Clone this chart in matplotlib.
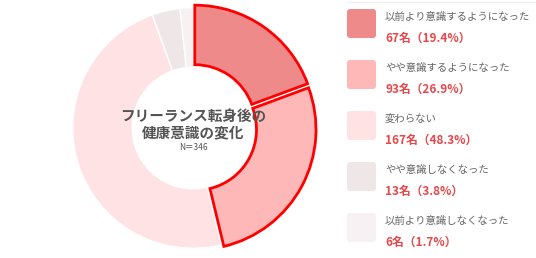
import matplotlib.pyplot as plt
from matplotlib.patches import FancyBboxPatch

plt.rcParams['font.family'] = ['Noto Sans CJK JP', 'DejaVu Sans']

labels = ["以前より意識するようになった", "やや意識するようになった", "変わらない",
          "やや意識しなくなった", "以前より意識しなくなった"]
counts = [67, 93, 167, 13, 6]
pcts = [19.4, 26.9, 48.3, 3.8, 1.7]
colors = ["#ef8a8a", "#ffb8b8", "#ffe3e4", "#efe6e8", "#f8f1f3"]
highlight = [True, True, False, False, False]

W, H = 536, 258
fig = plt.figure(figsize=(W / 100, H / 100), dpi=100)
fig.patch.set_facecolor("white")

# donut
cx, cy, r = 193, 128, 124
ax = fig.add_axes([(cx - r) / W, (H - cy - r) / H, 2 * r / W, 2 * r / H])

explode = [0.025 if h else 0 for h in highlight]
wedges, _ = ax.pie(counts, colors=colors, startangle=90, counterclock=False,
                   radius=0.97, explode=explode,
                   wedgeprops=dict(width=0.48, edgecolor="white", linewidth=1))
for w, h in zip(wedges, highlight):
    if h:
        w.set_edgecolor("#ff0000")
        w.set_linewidth(2)
        w.set_zorder(3)

ax.set_xlim(-1, 1)
ax.set_ylim(-1, 1)
ax.set_aspect("equal")
ax.axis("off")

ax.text(0, 0.097, "フリーランス転身後の", ha="center", va="center",
        fontsize=10.5, fontweight="bold", color="#555555", zorder=5)
ax.text(0, -0.035, "健康意識の変化", ha="center", va="center",
        fontsize=10.5, fontweight="bold", color="#555555", zorder=5)
ax.text(0, -0.155, "N＝346", ha="center", va="center", fontsize=6,
        color="#555555", zorder=5)

# legend
lax = fig.add_axes([0, 0, 1, 1])
lax.set_xlim(0, W)
lax.set_ylim(H, 0)
lax.axis("off")
lax.plot([348, 536], [2, 2], color="#eeeeee", linewidth=0.8)

for i, (lab, n, p, c) in enumerate(zip(labels, counts, pcts, colors)):
    y0 = 9 + i * 51
    lax.add_patch(FancyBboxPatch((347, y0), 29, 29,
                                 boxstyle="round,pad=0,rounding_size=3",
                                 facecolor=c, edgecolor="none"))
    lax.text(385, y0 + 8, lab, ha="left", va="center", fontsize=7.5, color="#666666")
    lax.text(385, y0 + 29, f"{n}名（{p}%）", ha="left", va="center",
             fontsize=8.5, fontweight="bold", color="#e8474a")

fig.savefig("out.png", dpi=100, facecolor="white")
